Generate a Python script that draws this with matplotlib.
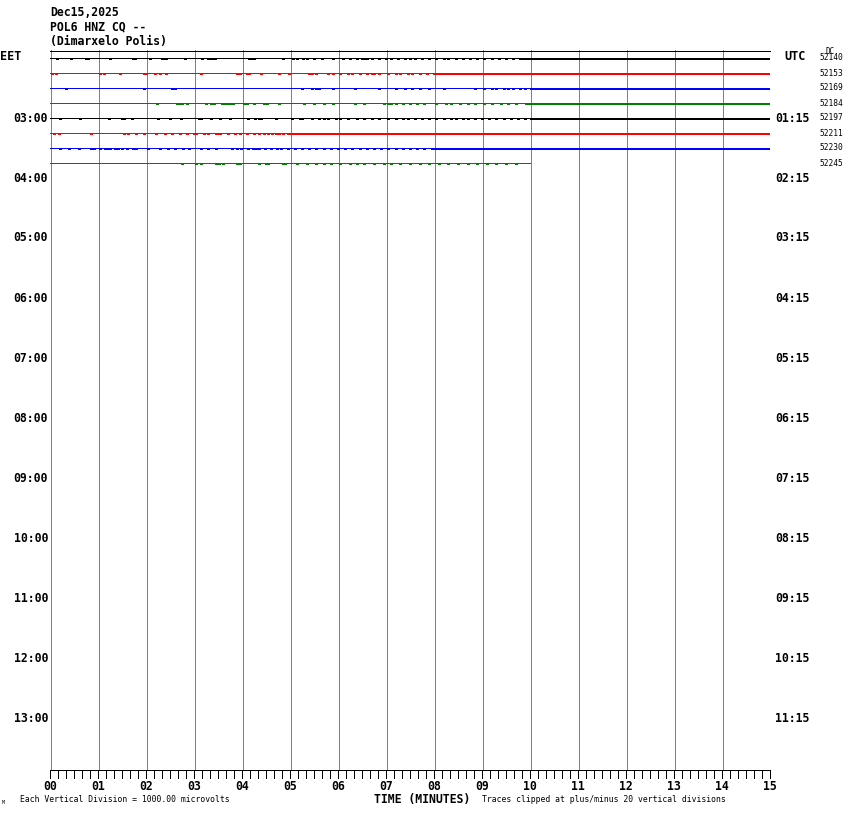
import matplotlib
matplotlib.use("Agg")
import matplotlib.pyplot as plt
import numpy as np

# ---------------- data ----------------
title_lines = ["Dec15,2025", "POL6 HNZ CQ --", "(Dimarxelo Polis)"]
eet_hours = ["03:00", "04:00", "05:00", "06:00", "07:00", "08:00",
             "09:00", "10:00", "11:00", "12:00", "13:00"]
utc_hours = ["01:15", "02:15", "03:15", "04:15", "05:15", "06:15",
             "07:15", "08:15", "09:15", "10:15", "11:15"]
dc_values = ["52140", "52153", "52169", "52184", "52197", "52211", "52230", "52245"]
trace_colors = ["black", "red", "blue", "green", "black", "red", "blue", "green"]
trace_end = [15, 15, 15, 15, 15, 15, 15, 10]          # minutes recorded per row
minute_labels = ["00", "01", "02", "03", "04", "05", "06", "07",
                 "08", "09", "10", "11", "12", "13", "14", "15"]

# spike times (minutes), per row
spikes = [
    [0.15, 0.43, 0.75, 0.80, 1.24, 1.72, 1.77, 2.08, 2.33, 2.38, 2.42, 2.81, 3.16, 3.30, 3.35,
     3.40, 3.44, 4.14, 4.20, 4.26, 4.86, 5.07, 5.15, 5.28, 5.35, 5.50, 5.67, 5.90, 6.10, 6.25,
     6.40, 6.50, 6.55, 6.60, 6.70, 6.85, 7.00, 7.10, 7.25, 7.40, 7.50, 7.60, 7.75, 7.90, 8.05,
     8.20, 8.30, 8.45, 8.60, 8.75, 8.90, 9.05, 9.20, 9.35, 9.50, 9.65, 9.80],
    [0.05, 0.12, 1.05, 1.12, 1.45, 1.95, 2.0, 2.18, 2.30, 2.42, 3.15, 3.90, 3.95, 4.10, 4.15,
     4.40, 4.78, 4.97, 5.40, 5.45, 5.55, 5.80, 5.90, 6.05, 6.20, 6.30, 6.45, 6.60, 6.70, 6.75,
     6.85, 7.05, 7.20, 7.30, 7.45, 7.55, 7.70, 7.85, 8.00, 8.10, 8.20, 8.30, 8.40, 8.55, 8.65,
     8.80, 8.90, 9.00, 9.10, 9.25, 9.35, 9.50, 9.60, 9.75, 9.85],
    [0.33, 1.96, 2.55, 2.60, 5.25, 5.45, 5.55, 5.60, 5.90, 6.35, 6.85, 7.20, 7.40, 7.55, 7.70,
     7.90, 8.20, 8.85, 9.05, 9.20, 9.30, 9.45, 9.55, 9.65, 9.80, 9.90],
    [2.23, 2.65, 2.70, 2.75, 2.85, 3.25, 3.35, 3.42, 3.58, 3.62, 3.66, 3.70, 3.75, 3.82, 4.05,
     4.10, 4.25, 4.45, 4.52, 4.78, 5.30, 5.50, 5.70, 5.90, 6.35, 6.55, 6.95, 7.05, 7.10, 7.20,
     7.35, 7.50, 7.65, 7.80, 8.05, 8.25, 8.35, 8.55, 8.70, 8.85, 9.05, 9.20, 9.40, 9.55, 9.70],
    [0.20, 0.62, 1.22, 1.50, 1.55, 1.70, 2.25, 2.50, 2.72, 3.10, 3.15, 3.35, 3.55, 3.75, 4.12,
     4.28, 4.35, 4.40, 4.70, 5.05, 5.20, 5.25, 5.45, 5.60, 5.70, 5.80, 5.95, 6.05, 6.20, 6.40,
     6.55, 6.70, 6.85, 7.05, 7.20, 7.35, 7.45, 7.60, 7.75, 7.90, 8.05, 8.20, 8.35, 8.45, 8.60,
     8.70, 8.85, 9.00, 9.15, 9.30, 9.45, 9.60, 9.75, 9.90],
    [0.08, 0.18, 0.85, 1.55, 1.62, 1.80, 1.95, 2.20, 2.40, 2.55, 2.70, 2.85, 3.00, 3.05, 3.20,
     3.30, 3.45, 3.50, 3.55, 3.70, 3.85, 3.95, 4.10, 4.25, 4.35, 4.45, 4.55, 4.62, 4.70, 4.78,
     4.85, 4.95],
    [0.20, 0.40, 0.60, 0.85, 0.88, 0.92, 1.05, 1.15, 1.20, 1.25, 1.35, 1.42, 1.50, 1.60, 1.72,
     1.80, 2.05, 2.30, 2.45, 2.60, 2.78, 2.90, 3.15, 3.30, 3.45, 3.80, 3.90, 3.98, 4.12, 4.22,
     4.30, 4.35, 4.48, 4.60, 4.72, 4.82, 4.95, 5.10, 5.25, 5.40, 5.55, 5.70, 5.85, 6.00, 6.15,
     6.30, 6.45, 6.60, 6.75, 6.90, 7.05, 7.20, 7.35, 7.50, 7.65, 7.80, 7.95],
    [2.75, 3.05, 3.15, 3.45, 3.52, 3.60, 3.90, 3.95, 4.35, 4.50, 4.55, 4.85, 4.90, 5.15, 5.35,
     5.55, 5.70, 5.85, 6.05, 6.25, 6.40, 6.55, 6.75, 6.95, 7.10, 7.30, 7.50, 7.70, 7.90, 8.10,
     8.30, 8.50, 8.70, 8.90, 9.10, 9.30, 9.50, 9.70],
]
# stretches where the trace is noisy enough to look two pixels thick
thick = [(9.8, 15), (8.0, 15), (10.0, 15), (9.9, 15), (10.0, 15), (5.0, 15), (8.0, 15), None]

# ---------------- figure ----------------
W, H = 850, 814
fig = plt.figure(figsize=(W / 100, H / 100), dpi=100)
fig.patch.set_facecolor("white")
x0, x1, ytop, ybot = 50, 770, 50, 770
ax = fig.add_axes([x0 / W, 1 - ybot / H, (x1 - x0) / W, (ybot - ytop) / H])
px = 1 / 15.0  # one pixel in row units
ax.set_xlim(0, 15)
ax.set_ylim((ybot - 58) / 15.0, (ytop - 58) / 15.0)
ax.axis("off")

mono = "DejaVu Sans Mono"
LW = 0.72  # one pixel
AA = False

# vertical minute grid
for m in range(16):
    ax.axvline(m + 0.5 / 48, color="#808080", lw=LW, zorder=1, antialiased=AA)
ax.axhline((ytop - 58) / 15.0 + 0.5 * px, color="black", lw=LW, zorder=3,
           clip_on=False, antialiased=AA)
yb = (ybot - 58) / 15.0 - 0.5 * px
ax.axhline(yb, color="black", lw=LW, zorder=3, clip_on=False, antialiased=AA)

# traces
for k, col in enumerate(trace_colors):
    end = trace_end[k]
    ax.plot([0, end], [k, k], color=col, lw=LW, zorder=4, solid_capstyle="butt",
            antialiased=AA)
    if thick[k] is not None:
        a, b = thick[k]
        ax.plot([a, min(b, end)], [k + px, k + px], color=col, lw=LW,
                zorder=4, solid_capstyle="butt", antialiased=AA)
    s = np.array(spikes[k])
    s = s[s <= end]
    ax.vlines(s, k, k + 1.2 * px, color=col, lw=LW * 1.3, zorder=4, antialiased=AA)

# bottom ticks (every 10 seconds)
for t in np.arange(0, 15.0001, 1 / 6):
    ax.plot([t, t], [yb, yb + 8 * px], color="black", lw=LW, clip_on=False, zorder=3,
            antialiased=AA)
for m, lab in enumerate(minute_labels):
    ax.text(m, yb + 17 * px, lab, ha="center", va="center", fontsize=8.3,
            fontweight="bold", family=mono, clip_on=False)

# header text
for i, line in enumerate(title_lines):
    fig.text(50 / W, 1 - (12 + 15 * i) / H, line, ha="left", va="center",
             fontsize=8.3, fontweight="bold", family=mono)

fig.text(0 / W, 1 - 57 / H, "EET", ha="left", va="center", fontsize=8.5,
         fontweight="bold", family=mono)
fig.text(784 / W, 1 - 57 / H, "UTC", ha="left", va="center", fontsize=8.5,
         fontweight="bold", family=mono)
fig.text(825 / W, 1 - 52 / H, "DC", ha="left", va="center", fontsize=5.5, family=mono)

for i, lab in enumerate(eet_hours):
    fig.text(48 / W, 1 - (118 + 60 * i) / H, lab, ha="right", va="center",
             fontsize=8.3, fontweight="bold", family=mono)
for i, lab in enumerate(utc_hours):
    fig.text(775 / W, 1 - (118 + 60 * i) / H, lab, ha="left", va="center",
             fontsize=8.3, fontweight="bold", family=mono)
for i, lab in enumerate(dc_values):
    fig.text(820 / W, 1 - (58 + 15 * i) / H, lab, ha="left", va="center",
             fontsize=5.7, family=mono)

fig.text(422 / W, 1 - 800 / H, "TIME (MINUTES)", ha="center", va="center",
         fontsize=8.3, fontweight="bold", family=mono)
fig.text(20 / W, 1 - 800 / H, "Each Vertical Division = 1000.00 microvolts",
         ha="left", va="center", fontsize=5.9, family=mono)
fig.text(482 / W, 1 - 800 / H, "Traces clipped at plus/minus 20 vertical divisions",
         ha="left", va="center", fontsize=5.9, family=mono)
fig.text(2 / W, 1 - 802 / H, "M", ha="left", va="center", fontsize=3.5, family=mono)

fig.savefig("out.png", dpi=100, facecolor="white")
